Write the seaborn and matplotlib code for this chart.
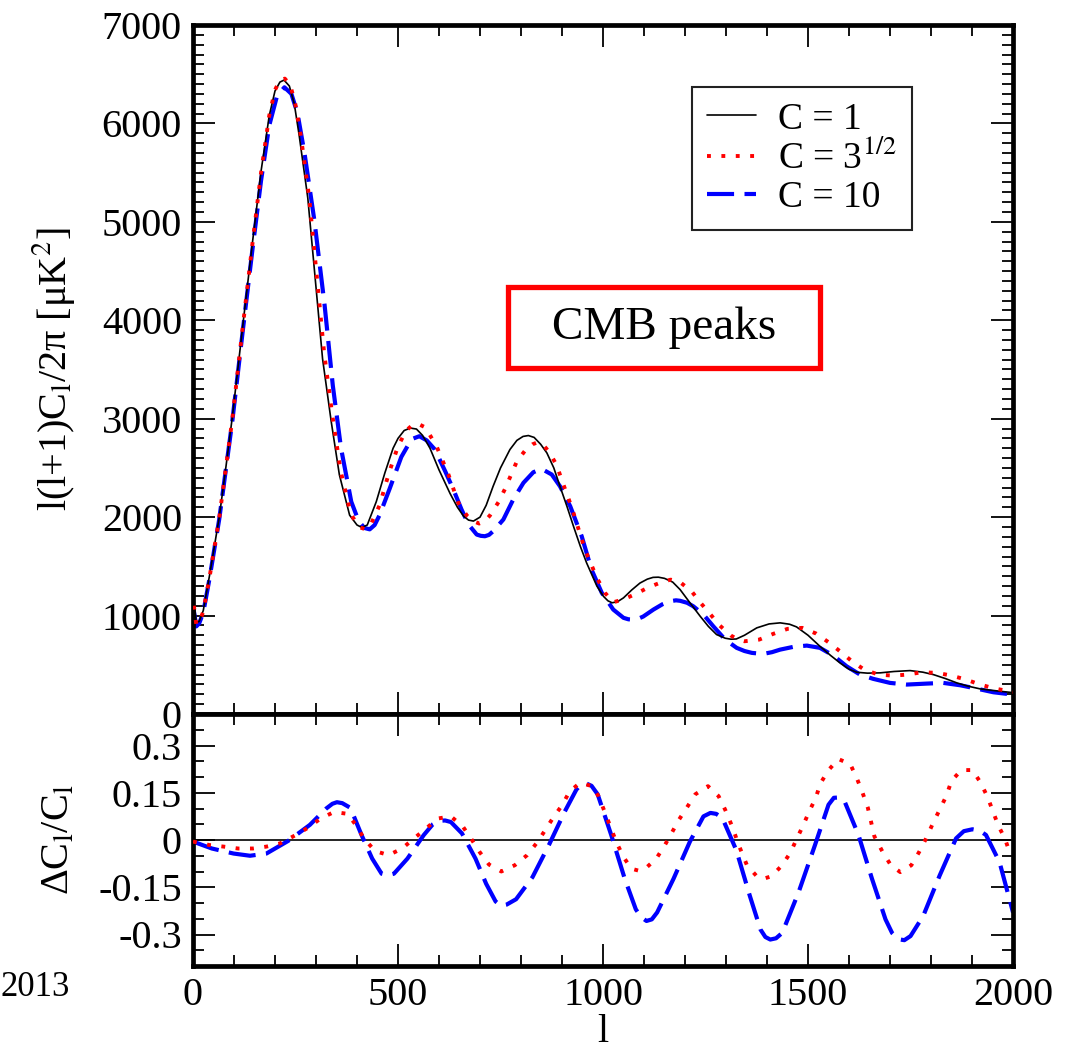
import numpy as np
import pandas as pd
import seaborn as sns
import matplotlib

matplotlib.use("Agg")
import matplotlib.pyplot as plt
from matplotlib.patches import Rectangle
from matplotlib.ticker import MultipleLocator, FixedLocator

# Power spectrum, C = 1.
l_c1 = [2, 8, 15, 25, 40, 64, 80, 96, 121, 145, 166, 186, 200, 212, 222, 235,
        247, 259, 280, 300, 316, 337, 357, 382, 400, 412, 425, 447, 468, 488,
        500, 515, 530, 545, 560, 578, 600, 627, 645, 660, 672, 684, 700, 715,
        732, 750, 773, 790, 805, 818, 832, 848, 863, 880, 895, 912, 928, 945,
        960, 985, 1001, 1012, 1022, 1035, 1050, 1070, 1090, 1108, 1122, 1135,
        1150, 1170, 1188, 1212, 1237, 1257, 1277, 1298, 1312, 1325, 1345, 1375,
        1405, 1432, 1455, 1472, 1500, 1529, 1555, 1578, 1600, 1619, 1645, 1676,
        1710, 1749, 1780, 1806, 1835, 1863, 1890, 1920, 1968, 2000]
cl_c1 = [1150, 930, 940, 1050, 1400, 2000, 2500, 3020, 3930, 4790, 5515, 6080,
         6330, 6420, 6440, 6380, 6200, 5877, 5242, 4335, 3609, 2974, 2430, 2020,
         1920, 1895, 1920, 2157, 2450, 2700, 2800, 2880, 2905, 2895, 2830, 2700,
         2480, 2240, 2100, 2010, 1970, 1960, 2000, 2120, 2314, 2500, 2687, 2780,
         2820, 2829, 2810, 2740, 2653, 2500, 2314, 2110, 1907, 1700, 1535, 1300,
         1196, 1150, 1130, 1140, 1180, 1260, 1330, 1370, 1388, 1390, 1378, 1340,
         1264, 1130, 993, 890, 807, 770, 760, 762, 800, 875, 915, 926, 912, 885,
         800, 688, 595, 519, 455, 424, 415, 418, 432, 441, 425, 400, 360, 316,
         283, 255, 231, 217]

# C = 3^(1/2)
l_c3 = [2, 8, 15, 25, 40, 64, 96, 121, 145, 166, 186, 200, 212, 224, 237, 249,
        262, 283, 303, 320, 340, 360, 385, 405, 418, 432, 455, 478, 500, 520,
        535, 548, 565, 576, 594, 623, 647, 668, 683, 698, 712, 724, 745, 761,
        790, 812, 828, 841, 855, 869, 887, 899, 924, 956, 985, 1005, 1025,
        1050, 1080, 1110, 1140, 1165, 1188, 1216, 1238, 1261, 1285, 1312, 1330,
        1345, 1381, 1415, 1450, 1486, 1520, 1550, 1578, 1607, 1637, 1672, 1707,
        1742, 1777, 1815, 1850, 1885, 1920, 1956, 2000]
cl_c3 = [1100, 910, 930, 1040, 1380, 1990, 3000, 3920, 4780, 5500, 6080, 6340,
         6440, 6455, 6390, 6210, 5900, 5260, 4400, 3660, 3030, 2470, 2030, 1900,
         1880, 1910, 2120, 2450, 2720, 2880, 2935, 2950, 2915, 2846, 2720, 2433,
         2145, 2016, 1960, 1935, 1960, 2016, 2152, 2287, 2568, 2687, 2740, 2761,
         2730, 2660, 2528, 2382, 2094, 1671, 1383, 1230, 1135, 1165, 1220, 1285,
         1335, 1365, 1339, 1247, 1129, 1017, 898, 797, 755, 739, 756, 814, 865,
         875, 817, 729, 637, 536, 451, 400, 390, 400, 424, 418, 390, 350, 299,
         258, 225]

# C = 10
l_c10 = [2, 8, 15, 25, 40, 64, 96, 121, 145, 166, 186, 205, 223, 240, 255, 272,
         296, 321, 341, 361, 386, 404, 418, 431, 443, 455, 480, 508, 533, 552,
         570, 590, 615, 635, 655, 672, 692, 702, 712, 722, 732, 757, 781, 806,
         830, 850, 875, 895, 920, 948, 972, 997, 1025, 1050, 1062, 1074, 1086,
         1098, 1123, 1145, 1163, 1178, 1188, 1205, 1220, 1245, 1269, 1298, 1326,
         1345, 1363, 1380, 1395, 1412, 1432, 1464, 1497, 1529, 1562, 1594, 1627,
         1659, 1700, 1741, 1790, 1830, 1871, 1911, 1952, 2000]
cl_c10 = [1050, 890, 920, 1030, 1370, 1980, 2980, 3880, 4720, 5420, 5980, 6280,
          6367, 6300, 6100, 5696, 5015, 4153, 3337, 2701, 2157, 1960, 1890, 1876,
          1920, 2020, 2293, 2611, 2792, 2822, 2780, 2687, 2467, 2281, 2077, 1925,
          1823, 1810, 1806, 1820, 1857, 1976, 2179, 2349, 2456, 2491, 2433, 2314,
          2111, 1806, 1467, 1231, 1061, 977, 962, 959, 968, 990, 1061, 1115, 1145,
          1155, 1150, 1130, 1095, 1010, 891, 756, 672, 640, 621, 614, 614, 628,
          654, 682, 695, 672, 593, 485, 400, 357, 316, 299, 309, 316, 292, 258,
          221, 197]

# Relative difference, C = 3^(1/2)
l_d3 = [0, 40, 75, 110, 146, 179, 212, 248, 282, 311, 344, 377, 397, 417, 444,
        477, 510, 539, 570, 596, 629, 658, 678, 699, 722, 752, 785, 815, 841,
        878, 901, 918, 944, 973, 989, 1007, 1020, 1034, 1050, 1069, 1086, 1103,
        1130, 1150, 1167, 1185, 1205, 1225, 1256, 1282, 1298, 1315, 1331, 1351,
        1377, 1394, 1411, 1437, 1457, 1473, 1488, 1503, 1519, 1530, 1550, 1574,
        1603, 1620, 1633, 1646, 1662, 1682, 1702, 1725, 1752, 1771, 1788, 1805,
        1821, 1837, 1850, 1874, 1901, 1921, 1938, 1951, 1964, 1980, 1993]
d_c3 = [-0.005, -0.016, -0.021, -0.027, -0.027, -0.021, -0.011, 0.014, 0.040,
        0.068, 0.089, 0.083, 0.048, 0.005, -0.035, -0.048, -0.027, 0.005, 0.038,
        0.068, 0.075, 0.043, 0.005, -0.038, -0.078, -0.100, -0.080, -0.048,
        -0.005, 0.070, 0.112, 0.153, 0.182, 0.171, 0.139, 0.080, 0.035, -0.011,
        -0.054, -0.091, -0.097, -0.091, -0.059, -0.018, 0.021, 0.064, 0.104,
        0.145, 0.171, 0.139, 0.096, 0.043, -0.016, -0.080, -0.118, -0.122,
        -0.115, -0.080, -0.040, 0.005, 0.046, 0.091, 0.134, 0.179, 0.222, 0.257,
        0.241, 0.193, 0.150, 0.102, 0.011, -0.038, -0.080, -0.102, -0.080,
        -0.038, 0.005, 0.054, 0.096, 0.139, 0.188, 0.222, 0.222, 0.182, 0.136,
        0.091, 0.046, 0.005, -0.043]

# Relative difference, C = 10
l_d10 = [0, 46, 99, 139, 179, 232, 285, 325, 340, 351, 364, 384, 411, 437, 460,
         475, 490, 523, 563, 585, 600, 615, 629, 656, 689, 715, 738, 751, 765,
         788, 828, 868, 907, 935, 947, 960, 972, 987, 1020, 1053, 1080, 1093,
         1106, 1119, 1132, 1172, 1212, 1245, 1262, 1276, 1291, 1325, 1358, 1384,
         1396, 1408, 1422, 1437, 1477, 1517, 1550, 1563, 1576, 1589, 1623, 1656,
         1689, 1705, 1720, 1735, 1750, 1781, 1821, 1861, 1880, 1901, 1918, 1934,
         1967, 2000]
d_c10 = [-0.005, -0.027, -0.043, -0.050, -0.043, -0.003, 0.048, 0.100, 0.115,
         0.120, 0.117, 0.102, 0.016, -0.059, -0.107, -0.112, -0.107, -0.059,
         0.016, 0.050, 0.061, 0.062, 0.057, 0.021, -0.059, -0.139, -0.195,
         -0.209, -0.205, -0.188, -0.118, -0.016, 0.091, 0.160, 0.177, 0.179,
         0.172, 0.145, 0.016, -0.123, -0.220, -0.245, -0.257, -0.252, -0.230,
         -0.123, -0.005, 0.075, 0.086, 0.083, 0.070, -0.032, -0.177, -0.284,
         -0.308, -0.316, -0.312, -0.295, -0.166, -0.016, 0.112, 0.134, 0.135,
         0.123, 0.016, -0.123, -0.252, -0.295, -0.315, -0.318, -0.305, -0.241,
         -0.113, 0.005, 0.028, 0.034, 0.030, 0.016, -0.070, -0.230]

top_yticks = [0, 1000, 2000, 3000, 4000, 5000, 6000, 7000]
bot_yticks = [-0.3, -0.15, 0, 0.15, 0.3]
bot_ylabels = ["-0.3", "-0.15", "0", "0.15", "0.3"]
xticks = [0, 500, 1000, 1500, 2000]

sns.set_style("ticks")
plt.rcParams["font.family"] = ["Liberation Serif", "DejaVu Serif"]
plt.rcParams["mathtext.fontset"] = "stix"
plt.rcParams["axes.unicode_minus"] = False
plt.rcParams["axes.edgecolor"] = "black"
plt.rcParams["text.color"] = "black"
plt.rcParams["axes.labelcolor"] = "black"
plt.rcParams["xtick.color"] = "black"
plt.rcParams["ytick.color"] = "black"

fig = plt.figure(figsize=(10.77, 10.5), dpi=100)
ax1 = fig.add_axes([0.1792, 0.32, 0.7614, 0.6562])
ax2 = fig.add_axes([0.1792, 0.08, 0.7614, 0.24])

black_kws = dict(color="black", lw=1.2)
red_kws = dict(color="#ff0000", lw=2.8, linestyle=(0, (1, 2.7)))
blue_kws = dict(color="#0000ff", lw=3.0, linestyle=(0, (6.5, 2.5)))

sns.lineplot(x=l_c10, y=cl_c10, ax=ax1, label="C = 10", estimator=None,
             zorder=2, **blue_kws)
sns.lineplot(x=l_c1, y=cl_c1, ax=ax1, label="C = 1", estimator=None,
             zorder=3, **black_kws)
sns.lineplot(x=l_c3, y=cl_c3, ax=ax1, label="C = 3$^{1/2}$", estimator=None,
             zorder=4, **red_kws)

ax2.axhline(0, color="black", lw=1.2, zorder=1)
sns.lineplot(x=l_d10, y=d_c10, ax=ax2, estimator=None, zorder=2, **blue_kws)
sns.lineplot(x=l_d3, y=d_c3, ax=ax2, estimator=None, zorder=3, **red_kws)

for ax in [ax1, ax2]:
    ax.set_xlim(0, 2000)
    ax.xaxis.set_major_locator(FixedLocator(xticks))
    ax.xaxis.set_minor_locator(MultipleLocator(100))
    ax.tick_params(which="both", direction="in", top=True, right=True,
                   width=1.3, labelsize=29, pad=8)
    ax.tick_params(which="major", length=16)
    ax.tick_params(which="minor", length=8)
    for side in ax.spines.values():
        side.set_linewidth(3.4)

ax1.set_ylim(0, 7000)
ax1.yaxis.set_major_locator(FixedLocator(top_yticks))
ax1.yaxis.set_minor_locator(MultipleLocator(100))
ax1.tick_params(labelbottom=False)
ax1.set_xlabel("")
ax1.set_ylabel("l(l+1)C$_\\mathrm{l}$/2π [μK$^2$]", fontsize=29)
ax1.yaxis.set_label_coords(-0.141, 0.5)

ax2.set_ylim(-0.4, 0.4)
ax2.yaxis.set_major_locator(FixedLocator(bot_yticks))
ax2.set_yticklabels(bot_ylabels)
ax2.yaxis.set_minor_locator(MultipleLocator(0.05))
ax2.set_xlabel("l", fontsize=29, labelpad=0)
ax2.set_ylabel("ΔC$_\\mathrm{l}$/C$_\\mathrm{l}$", fontsize=29)
ax2.yaxis.set_label_coords(-0.141, 0.5)

# Legend in the order C = 1, C = 3^(1/2), C = 10.
handles, labels = ax1.get_legend_handles_labels()
order = [labels.index("C = 1"), labels.index("C = 3$^{1/2}$"),
         labels.index("C = 10")]
leg = ax1.legend([handles[i] for i in order], [labels[i] for i in order],
                 loc="upper right", bbox_to_anchor=(0.877, 0.91),
                 fontsize=27, frameon=True, fancybox=False, framealpha=1,
                 handlelength=1.3, handletextpad=0.6, labelspacing=0.1,
                 borderpad=0.4, borderaxespad=0)
leg.get_frame().set_edgecolor("#222222")
leg.get_frame().set_linewidth(1.5)

# Boxed annotation.
ax1.add_patch(Rectangle((0.384, 0.502), 0.381, 0.118, transform=ax1.transAxes,
                        fill=False, edgecolor="#ff0000", lw=3.8, zorder=5))
ax1.text(0.574, 0.561, "CMB peaks", transform=ax1.transAxes, fontsize=34,
         ha="center", va="center", zorder=6)

fig.text(0.0, 1 - 987 / 1050, "2013", fontsize=25, ha="left", va="center")

fig.savefig("out.png", dpi=100)
plt.close()
